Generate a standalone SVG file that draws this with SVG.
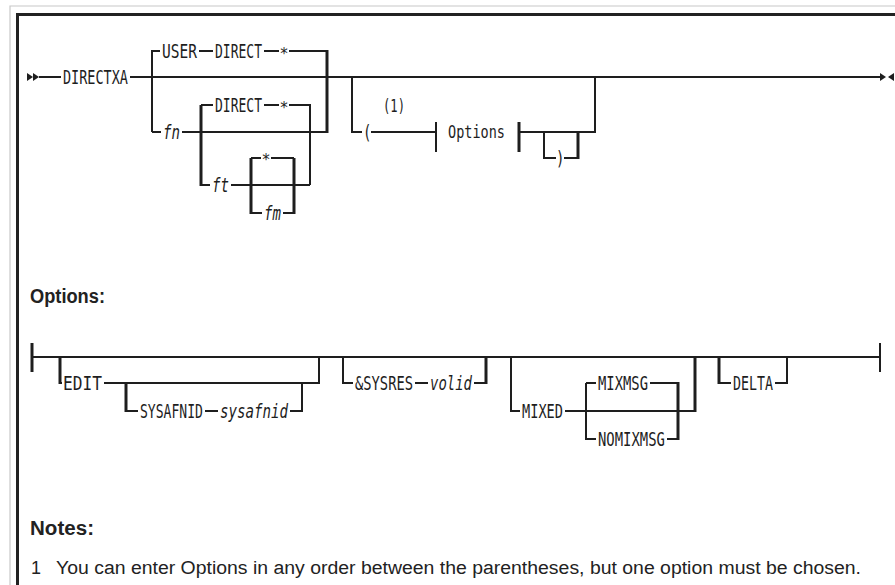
<svg xmlns="http://www.w3.org/2000/svg" width="895" height="585" viewBox="0 0 895 585">
<style>
.r{stroke:#1e1e1e;stroke-width:2;fill:none}
.t{stroke:#1e1e1e;stroke-width:3;fill:none}
.k{font-family:"DejaVu Sans Mono","Liberation Mono",monospace;font-size:14px;fill:#1e1e1e}
.i{font-family:"DejaVu Sans Mono","Liberation Mono",monospace;font-size:14px;font-style:italic;fill:#1e1e1e}
.s{font-family:"DejaVu Sans Mono","Liberation Mono",monospace;font-size:13.5px;fill:#1e1e1e}
.a{font-family:"DejaVu Sans Mono","Liberation Mono",monospace;font-size:15px;fill:#1e1e1e}
.h{font-family:"Liberation Sans",Arial,sans-serif;font-size:20px;font-weight:bold;fill:#222}
.n{font-family:"Liberation Sans",Arial,sans-serif;font-size:18px;fill:#222}
</style>
<rect width="895" height="585" fill="#fff"/>
<g id="frame">
<path d="M10 585V6H895" stroke="#c8c8c8" stroke-width="1.2" fill="none"/>
<path d="M17.5 585V14.5H895" stroke="#222" stroke-width="3" fill="none"/>
</g>
<g id="connectors">
<polygon points="27,73 33,77 27,81" fill="#1e1e1e"/>
<polygon points="33,73 39,77 33,81" fill="#1e1e1e"/>
<path class="r" d="M39 77H61M130 77H880"/>
<polygon points="880,73 886,77 880,81" fill="#1e1e1e"/>
<polygon points="894,73 888,77 894,81" fill="#1e1e1e"/>
<path class="r" d="M152 132V51H160M199 51H213M264 51H279M289 51H327"/>
<path class="t" d="M327 50V133"/>
<path class="r" d="M152 132H161M182 132H327"/>
<path class="t" d="M201 186V105"/>
<path class="r" d="M201 105H213M264 105H279M289 105H310V185M201 185H210M231 185H310"/>
<path class="t" d="M251 214V158M294 214V158"/>
<path class="r" d="M251 158H261M271 158H294M251 213H262M283 213H294"/>
<path class="r" d="M352 77V132H362M371 132H436M436 122V152"/>
<path class="t" d="M519 122V152"/>
<path class="r" d="M519 132H595V77M544 132V158H556M564 158H578"/>
<path class="t" d="M578 131V159"/>
<path class="t" d="M32 343V372"/>
<path class="r" d="M32 357H880M880 343V372"/>
<path class="t" d="M60 356V384"/>
<path class="r" d="M60 383H62M104 383H319V357"/>
<path class="t" d="M126 382V412"/>
<path class="r" d="M126 411H138M205 411H218M290 411H302V383"/>
<path class="r" d="M343 357V383H353M415 383H428M474 383H486"/>
<path class="t" d="M486 356V384"/>
<path class="r" d="M511 357V411H520M565 411H695"/>
<path class="t" d="M695 356V412"/>
<path class="r" d="M586 383V439H596M667 439H678M586 383H596M650 383H678"/>
<path class="t" d="M678 382V440"/>
<path class="t" d="M719 356V384"/>
<path class="r" d="M719 383H731M775 383H787V357"/>
</g>
<g id="main-syntax">
<text class="k" transform="translate(63,84) scale(1,1.35)" textLength="65" lengthAdjust="spacingAndGlyphs">DIRECTXA</text>
</g>
<g id="user-direct">
<text class="k" transform="translate(162,58) scale(1,1.35)" textLength="35" lengthAdjust="spacingAndGlyphs">USER</text>
<text class="k" transform="translate(215,58) scale(1,1.35)" textLength="47" lengthAdjust="spacingAndGlyphs">DIRECT</text>
<text class="a" x="284" y="59" text-anchor="middle">*</text>
</g>
<g id="fn">
<text class="i" transform="translate(163,139) scale(1,1.35)" textLength="17" lengthAdjust="spacingAndGlyphs">fn</text>
</g>
<g id="fn-direct">
<text class="k" transform="translate(215,112) scale(1,1.35)" textLength="47" lengthAdjust="spacingAndGlyphs">DIRECT</text>
<text class="a" x="284" y="113" text-anchor="middle">*</text>
</g>
<g id="ft">
<text class="i" transform="translate(212,192) scale(1,1.35)" textLength="17" lengthAdjust="spacingAndGlyphs">ft</text>
<text class="a" x="266" y="165" text-anchor="middle">*</text>
<text class="i" transform="translate(264,220) scale(1,1.35)" textLength="17" lengthAdjust="spacingAndGlyphs">fm</text>
</g>
<g id="options-clause">
<text class="k" transform="translate(363,139) scale(1,1.35)">(</text>
<text class="s" transform="translate(383,112) scale(1,1.3)" textLength="22" lengthAdjust="spacingAndGlyphs">(1)</text>
<text class="s" transform="translate(448,138) scale(1,1.3)" textLength="57" lengthAdjust="spacingAndGlyphs">Options</text>
<text class="k" transform="translate(556,165) scale(1,1.35)">)</text>
</g>
<g id="options-label">
<text class="h" x="30" y="303" textLength="75" lengthAdjust="spacingAndGlyphs">Options:</text>
</g>
<g id="edit">
<text class="k" transform="translate(63,390) scale(1,1.35)" textLength="39" lengthAdjust="spacingAndGlyphs">EDIT</text>
</g>
<g id="sysafnid">
<text class="k" transform="translate(140,418) scale(1,1.35)" textLength="63" lengthAdjust="spacingAndGlyphs">SYSAFNID</text>
<text class="i" transform="translate(220,418) scale(1,1.35)" textLength="68" lengthAdjust="spacingAndGlyphs">sysafnid</text>
</g>
<g id="sysres">
<text class="k" transform="translate(355,390) scale(1,1.35)" textLength="58" lengthAdjust="spacingAndGlyphs">&amp;SYSRES</text>
<text class="i" transform="translate(430,390) scale(1,1.35)" textLength="42" lengthAdjust="spacingAndGlyphs">volid</text>
</g>
<g id="mixed">
<text class="k" transform="translate(522,418) scale(1,1.35)" textLength="41" lengthAdjust="spacingAndGlyphs">MIXED</text>
<text class="k" transform="translate(598,390) scale(1,1.35)" textLength="50" lengthAdjust="spacingAndGlyphs">MIXMSG</text>
<text class="k" transform="translate(598,446) scale(1,1.35)" textLength="67" lengthAdjust="spacingAndGlyphs">NOMIXMSG</text>
</g>
<g id="delta">
<text class="k" transform="translate(733,390) scale(1,1.35)" textLength="40" lengthAdjust="spacingAndGlyphs">DELTA</text>
</g>
<g id="notes">
<text class="h" x="30" y="535" textLength="64" lengthAdjust="spacingAndGlyphs">Notes:</text>
<text class="n" x="31" y="574">1</text>
<text class="n" x="56" y="574" textLength="805" lengthAdjust="spacingAndGlyphs">You can enter Options in any order between the parentheses, but one option must be chosen.</text>
</g>
</svg>
